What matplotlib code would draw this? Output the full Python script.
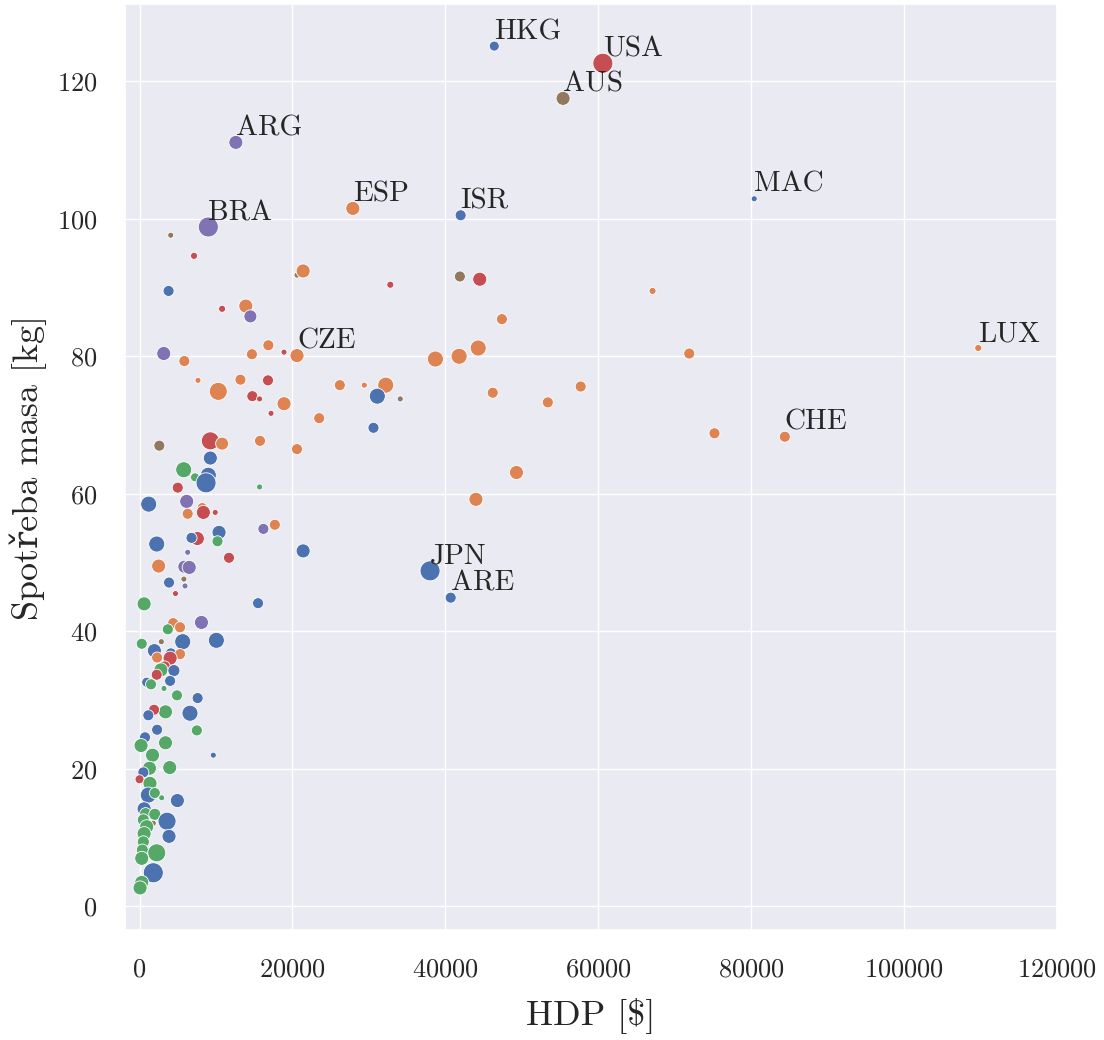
import numpy as np
import matplotlib
matplotlib.use("Agg")
import matplotlib.pyplot as plt
import seaborn as sns

sns.set_theme(style="darkgrid")
plt.rcParams['font.family'] = ['cmr10', 'DejaVu Serif']
plt.rcParams['axes.formatter.use_mathtext'] = True
plt.rcParams['axes.unicode_minus'] = False

# ---- data (HDP in thousands of $, meat consumption in kg) ----
kody = ["HKG", "USA", "AUS", "ARG", "ESP", "ISR", "BRA", "MAC", "CZE", "LUX", "CHE", "JPN", "ARE"]
kody_hdp = [46.4, 60.6, 55.4, 12.6, 27.9, 42.0, 9.0, 80.4, 20.6, 109.7, 84.4, 38.0, 40.7]
kody_maso = [125.1, 122.6, 117.5, 111.1, 101.5, 100.5, 98.8, 102.9, 80.1, 81.2, 68.3, 48.8, 44.9]
kody_kontinent = ["B", "R", "N", "P", "O", "B", "P", "B", "O", "O", "O", "B", "B"]
kody_populace = [6.3, 630, 40, 40, 40, 10, 630, 1.0, 40, 1.6, 10, 630, 10]

hdp = [4.08, 7.13, 20.6, 21.4, 32.8, 3.8, 10.8, 13.9, 14.5, 41.9, 44.5, 67.1, 47.4,
       3.17, 5.86, 14.7, 16.85, 18.9, 38.7, 41.8, 44.3, 71.9, 7.65, 13.2, 16.8, 10.3,
       14.75, 15.7, 18.9, 17.2, 23.5, 26.2, 29.4, 32.2, 31.1, 34.1, 30.6, 46.2, 53.4,
       57.7, 75.2, 49.3, 44.0, 2.59, 9.26, 10.8, 15.76, 20.6, 9.26, 5.78, 7.26, 9.0,
       8.7, 5.0, 15.7, 1.2, 6.17, 8.2, 6.3, 8.35, 9.9, 16.2, 17.7, 10.4, 10.2, 7.56,
       6.8, 2.25, 21.4, 11.7, 6.3, 2.5, 5.86, 6.5, 5.8, 5.95, 3.86, 4.7, 15.5, 0.6,
       8.1, 4.4, 5.3, 3.7, 10.05, 0.29, 2.85, 5.65, 1.94, 4.1, 5.3, 2.3, 4.0, 3.3,
       2.8, 2.25, 4.5, 4.0, 0.94, 1.5, 3.2, 4.9, 7.6, 6.6, 3.4, 1.9, 1.15, 2.3, 7.5,
       0.72, 0.2, 3.4, 1.7, 9.65, 1.3, 3.95, 0.5, 0.0, 1.37, 1.15, 2.0, 2.9, 4.95,
       0.6, 0.8, 2.0, 3.6, 1.8, 0.5, 0.94, 3.86, 0.6, 0.5, 0.37, 2.25, 0.29, 1.8,
       0.29, 0.07]
maso = [97.6, 94.6, 91.8, 92.4, 90.4, 89.5, 86.9, 87.3, 85.8, 91.6, 91.2, 89.5, 85.4,
        80.4, 79.3, 80.3, 81.6, 80.6, 79.6, 80.0, 81.2, 80.4, 76.5, 76.6, 76.5, 74.9,
        74.2, 73.8, 73.1, 71.7, 71.0, 75.8, 75.8, 75.8, 74.2, 73.8, 69.6, 74.7, 73.3,
        75.6, 68.8, 63.1, 59.2, 67.0, 67.7, 67.3, 67.7, 66.5, 65.2, 63.5, 62.4, 62.7,
        61.6, 60.9, 61.0, 58.5, 58.9, 58.0, 57.1, 57.3, 57.3, 54.9, 55.5, 54.4, 53.1, 53.5,
        53.6, 52.7, 51.7, 50.7, 51.5, 49.5, 49.4, 49.3, 47.6, 46.6, 47.1, 45.5, 44.1, 44.0,
        41.3, 41.2, 40.6, 40.3, 38.7, 38.2, 38.5, 38.5, 37.2, 36.8, 36.7, 36.2, 36.1, 34.9,
        34.4, 33.7, 34.3, 32.8, 32.6, 32.3, 31.7, 30.7, 30.3, 28.1, 28.3, 28.6, 27.8, 25.7, 25.6,
        24.6, 23.4, 23.8, 22.0, 22.0, 20.1, 20.2, 19.5, 18.5, 17.9, 16.2, 16.5, 15.8, 15.4,
        14.2, 13.5, 13.4, 12.4, 12.1, 12.6, 11.6, 10.2, 10.6, 9.4, 8.2, 7.8, 7.0, 4.9,
        3.5, 2.7]
kontinent = ["N", "R", "N", "O", "R", "B", "R", "O", "P", "N", "R", "O", "O",
             "P", "O", "O", "O", "R", "O", "O", "O", "O", "O", "O", "R", "O",
             "R", "R", "O", "R", "O", "O", "O", "O", "B", "N", "B", "O", "O",
             "O", "O", "O", "O", "N", "R", "O", "O", "O", "B", "G", "G", "B",
             "B", "R", "G", "B", "P", "O", "O", "R", "R", "P", "O", "B", "G", "R",
             "B", "B", "B", "R", "P", "O", "P", "P", "N", "P", "B", "R", "B", "G",
             "P", "O", "O", "G", "B", "G", "N", "B", "B", "B", "O", "O", "R", "R",
             "G", "R", "B", "B", "B", "G", "G", "G", "B", "B", "G", "R", "B", "B", "G",
             "B", "G", "G", "G", "B", "G", "G", "B", "R", "G", "B", "G", "G", "B",
             "B", "G", "G", "B", "N", "G", "G", "B", "G", "G", "G", "G", "G", "B",
             "G", "G"]
populace = [1.0, 1.6, 1.0, 40, 1.6, 10, 1.6, 40, 25, 10, 40, 1.6, 10,
            40, 10, 10, 10, 1.0, 100, 100, 100, 10, 1.0, 10, 10, 250,
            10, 1.0, 40, 1.0, 10, 10, 1.0, 100, 100, 1.0, 10, 10, 10,
            10, 10, 40, 40, 10, 250, 25, 10, 10, 40, 100, 4, 100,
            630, 10, 1.0, 100, 40, 6.3, 10, 40, 1.0, 10, 10, 40, 10, 40,
            10, 100, 40, 10, 1.0, 40, 25, 40, 1.0, 1.0, 10, 1.0, 10, 40,
            40, 10, 10, 10, 100, 10, 1.0, 100, 40, 10, 10, 10, 40, 10,
            40, 10, 16, 10, 6.3, 10, 1.0, 10, 10, 100, 40, 10, 10, 10, 10,
            10, 40, 40, 40, 1.0, 40, 40, 10, 4, 40, 100, 10, 1.0, 40,
            40, 16, 16, 250, 1.0, 16, 40, 40, 40, 16, 16, 250, 40, 630,
            40, 40]

barvy = {"B": "#4C72B0", "O": "#DD8452", "G": "#55A868",
         "R": "#C44E52", "P": "#8172B3", "N": "#937860"}

vse_hdp = np.array(hdp + kody_hdp) * 1000
vse_maso = np.array(maso + kody_maso)
vse_kont = kontinent + kody_kontinent
vse_pop = np.array(populace + kody_populace)

dpi = 100
fig = plt.figure(figsize=(11.04, 10.4), dpi=dpi)
ax = fig.add_axes([125 / 1104, 1 - 930 / 1040, (1057 - 125) / 1104, (930 - 4) / 1040])

diam_px = 6 + 5 * np.log10(vse_pop)
s = (diam_px * 72 / dpi) ** 2
ax.scatter(vse_hdp, vse_maso, s=s, c=[barvy[k] for k in vse_kont],
           edgecolors="white", linewidths=0.6, zorder=3)

for kod, x, y in zip(kody, kody_hdp, kody_maso):
    ax.text(x * 1000, y + 1.0, kod, fontsize=21, color=".15",
            ha="left", va="baseline", zorder=4)

ax.set_xlim(-1900, 120000)
ax.margins(y=0.05)
ax.set_xticks(np.arange(0, 120001, 20000))
ax.set_yticks(np.arange(0, 121, 20))
ax.tick_params(labelsize=19, colors=".15", pad=14)
ax.set_xlabel("HDP [$]", fontsize=26, color=".15", labelpad=12)
ax.set_ylabel("Spotřeba masa [kg]", fontsize=26, color=".15", labelpad=7)

fig.savefig("out.png", dpi=dpi)
